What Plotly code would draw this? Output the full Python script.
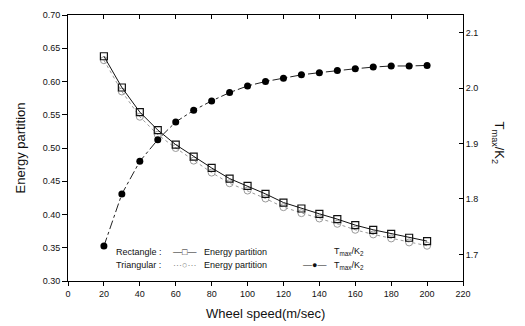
import plotly.graph_objects as go

speed = [20, 30, 40, 50, 60, 70, 80, 90, 100, 110, 120, 130, 140, 150, 160, 170, 180, 190, 200]
rect_ep = [0.638, 0.591, 0.554, 0.527, 0.505, 0.487, 0.470, 0.454, 0.443, 0.431, 0.418, 0.409,
           0.401, 0.393, 0.384, 0.377, 0.371, 0.365, 0.360]
tri_ep = [0.632, 0.585, 0.547, 0.520, 0.500, 0.481, 0.463, 0.447, 0.436, 0.424, 0.411, 0.402,
          0.394, 0.386, 0.377, 0.370, 0.364, 0.358, 0.353]
tmax_k2 = [1.715, 1.809, 1.868, 1.907, 1.939, 1.960, 1.977, 1.992, 2.004, 2.012, 2.018, 2.024,
           2.028, 2.032, 2.035, 2.038, 2.040, 2.040, 2.041]

x_ticks = [0, 20, 40, 60, 80, 100, 120, 140, 160, 180, 200, 220]
y_ticks = [0.30, 0.35, 0.40, 0.45, 0.50, 0.55, 0.60, 0.65, 0.70]
y2_ticks = [1.7, 1.8, 1.9, 2.0, 2.1]

FONT = "Liberation Sans, Arial, sans-serif"
L, R, T, B = 68, 62, 10, 45
W, H = 525, 326
PW, PH = W - L - R, H - T - B


def px(xp):
    return (xp - L) / PW


def py(yp):
    return (H - B - yp) / PH


fig = go.Figure()
fig.add_trace(go.Scatter(
    x=speed, y=tri_ep, mode="lines+markers",
    line=dict(color="#9a9a9a", width=1, dash="dot"),
    marker=dict(symbol="circle-open", size=7, color="#9a9a9a", line=dict(width=1)),
    showlegend=False))
fig.add_trace(go.Scatter(
    x=speed, y=rect_ep, mode="lines+markers",
    line=dict(color="#111111", width=1),
    marker=dict(symbol="square-open", size=7, color="#111111", line=dict(width=1.2)),
    showlegend=False))
fig.add_trace(go.Scatter(
    x=speed, y=tmax_k2, mode="lines+markers", yaxis="y2",
    line=dict(color="#222222", width=1, dash="dashdot"),
    marker=dict(symbol="circle", size=7, color="#000000"),
    showlegend=False))
# top axis ticks (inside)
fig.add_trace(go.Scatter(x=[None], y=[None], xaxis="x2", showlegend=False))

axis_common = dict(showgrid=False, zeroline=False, linecolor="#000", linewidth=1,
                   tickcolor="#000", tickfont=dict(family=FONT, size=9, color="#111"))

fig.update_layout(
    width=W, height=H,
    margin=dict(l=L, r=R, t=T, b=B),
    paper_bgcolor="white", plot_bgcolor="white",
    showlegend=False,
    xaxis=dict(range=[0, 220], tickvals=x_ticks, ticks="outside", ticklen=4,
               showline=True, **axis_common),
    xaxis2=dict(range=[0, 220], overlaying="x", side="top", tickvals=x_ticks[1:-1],
                ticks="inside", ticklen=4, showticklabels=False, showline=True,
                **axis_common),
    yaxis=dict(range=[0.30, 0.70], tickvals=y_ticks, tickformat=".2f", ticks="outside",
               ticklen=5, showline=True, **axis_common),
    yaxis2=dict(range=[1.652, 2.132], tickvals=y2_ticks, tickformat=".1f", overlaying="y",
                side="right", ticks="inside", ticklen=4, showline=True, **axis_common),
)

ann = []
ann.append(dict(text="Wheel speed(m/sec)", x=0.5, y=py(314), xref="paper", yref="paper",
                showarrow=False, font=dict(family=FONT, size=13, color="#111"),
                xanchor="center", yanchor="middle"))
ann.append(dict(text="Energy partition", x=px(20), y=py(146), xref="paper", yref="paper",
                showarrow=False, textangle=-90, font=dict(family=FONT, size=13, color="#111"),
                xanchor="center", yanchor="middle"))
ann.append(dict(text="T<sub>max</sub>/K<sub>2</sub>", x=px(498), y=py(140), xref="paper",
                yref="paper", showarrow=False, textangle=90,
                font=dict(family=FONT, size=13, color="#111"),
                xanchor="center", yanchor="middle"))

lf = dict(family=FONT, size=9, color="#111")
rows = [
    ("Rectangle :", "\u2014\u25a1\u2014", "#111", 251),
    ("Triangular :", "\u00b7\u00b7\u00b7\u25cb\u00b7\u00b7\u00b7", "#888", 265),
]
for label, sym, col, yy in rows:
    ann.append(dict(text=label, x=px(114), y=py(yy), xref="paper", yref="paper",
                    showarrow=False, font=lf, xanchor="left", yanchor="middle"))
    ann.append(dict(text=sym, x=px(184), y=py(yy), xref="paper", yref="paper",
                    showarrow=False, font=dict(family=FONT, size=9, color=col),
                    xanchor="center", yanchor="middle"))
    ann.append(dict(text="Energy partition", x=px(202), y=py(yy), xref="paper", yref="paper",
                    showarrow=False, font=lf, xanchor="left", yanchor="middle"))

ann.append(dict(text="T<sub>max</sub>/K<sub>2</sub>", x=px(332), y=py(251), xref="paper",
                yref="paper", showarrow=False, font=lf, xanchor="left", yanchor="middle"))
ann.append(dict(text="\u2014\u25cf\u2014", x=px(314), y=py(265), xref="paper", yref="paper",
                showarrow=False, font=lf, xanchor="center", yanchor="middle"))
ann.append(dict(text="T<sub>max</sub>/K<sub>2</sub>", x=px(332), y=py(265), xref="paper",
                yref="paper", showarrow=False, font=lf, xanchor="left", yanchor="middle"))

fig.update_layout(annotations=ann)
fig.write_html("out.html")
